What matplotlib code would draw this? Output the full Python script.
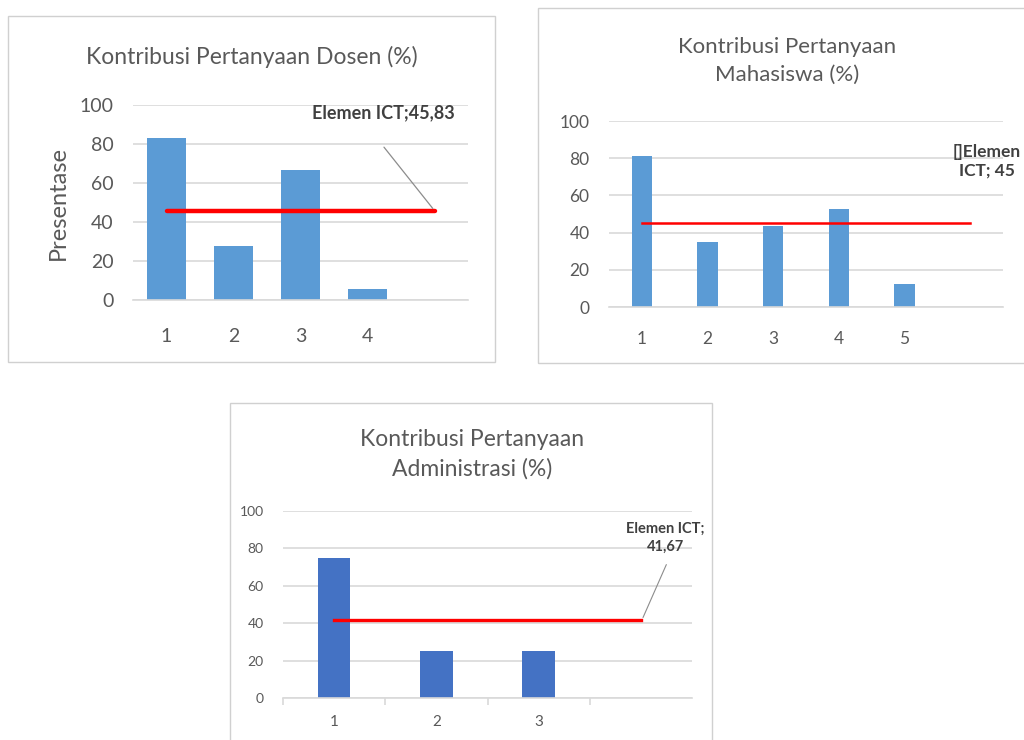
import numpy as np
import matplotlib
matplotlib.use("Agg")
from matplotlib import pyplot as plt
from matplotlib.patches import Rectangle

plt.rcParams['font.family'] = ['Lato', 'DejaVu Sans']

# data
dosen_cats = ['1', '2', '3', '4']
dosen_vals = [83.33, 27.78, 66.67, 5.56]
dosen_ict = 45.83

mhs_cats = ['1', '2', '3', '4', '5']
mhs_vals = [81.25, 35.0, 43.75, 52.5, 12.5]
mhs_ict = 45

adm_cats = ['1', '2', '3']
adm_vals = [75.0, 25.0, 25.0]
adm_ict = 41.67

W, H = 1024, 740
fig = plt.figure(figsize=(W / 100, H / 100), dpi=100)
fig.patch.set_facecolor('white')

tick_col = '#595959'
grid_col = '#d9d9d9'


def px_rect(l, t, r, b):
    # pixel box -> figure fraction
    return [l / W, 1 - b / H, (r - l) / W, (b - t) / H]


def frame(l, t, r, b):
    fig.add_artist(Rectangle((l / W, 1 - b / H), (r - l) / W, (b - t) / H,
                             transform=fig.transFigure, fill=False,
                             edgecolor='#d0d0d0', lw=1.0))


def base_axes(rect, ncat, fs, xpad):
    ax = fig.add_axes(rect)
    ax.set_ylim(0, 100)
    ax.set_xlim(0.5, ncat + 0.5)
    ax.set_yticks(np.arange(0, 101, 20))
    ax.yaxis.grid(True, color=grid_col, lw=1.2)
    ax.set_axisbelow(True)
    for s in ['top', 'right', 'left']:
        ax.spines[s].set_visible(False)
    ax.spines['bottom'].set_color(grid_col)
    ax.spines['bottom'].set_linewidth(1.2)
    ax.tick_params(axis='both', length=0, colors=tick_col, labelsize=fs)
    ax.tick_params(axis='y', pad=14)
    ax.tick_params(axis='x', pad=xpad)
    return ax


# ---- chart 1: Dosen
frame(8, 16, 495, 362)
ax1 = base_axes(px_rect(133, 105, 468, 300), len(dosen_cats) + 1, 14, 20)
x1 = np.arange(1, len(dosen_cats) + 1)
ax1.bar(x1, dosen_vals, width=0.57, color='#5B9BD5')
ax1.set_xticks(x1)
ax1.set_xticklabels(dosen_cats)
ax1.plot([1, len(dosen_cats) + 1], [dosen_ict, dosen_ict], color='#FF0000', lw=3.2,
         solid_capstyle='round')
ax1.set_ylabel('Presentase', fontsize=17, color=tick_col)
ax1.yaxis.label.set_va('center')
ax1.yaxis.set_label_coords(-0.224, 0.5)
ax1.text(5.3, 96, 'Elemen ICT;' + f'{dosen_ict:.2f}'.replace('.', ','), ha='right',
         va='center', fontsize=13, fontweight='bold', color='#404040')
ax1.annotate('', xy=(5, dosen_ict), xytext=(4.22, 79.5),
             arrowprops=dict(arrowstyle='-', color='#8c8c8c', lw=0.9))
fig.text(252 / W, 1 - 57 / H, 'Kontribusi Pertanyaan Dosen (%)', ha='center', va='center',
         fontsize=16.5, color=tick_col)

# ---- chart 2: Mahasiswa
frame(538, 8, 1030, 363)
ax2 = base_axes(px_rect(609, 121, 1003, 307), len(mhs_cats) + 1, 12.5, 17)
x2 = np.arange(1, len(mhs_cats) + 1)
ax2.bar(x2, mhs_vals, width=0.31, color='#5B9BD5')
ax2.set_xticks(x2)
ax2.set_xticklabels(mhs_cats)
ax2.plot([1, len(mhs_cats) + 1], [mhs_ict, mhs_ict], color='#FF0000', lw=1.8)
ax2.text(6.25, 78.5, '[]Elemen\nICT; ' + str(mhs_ict), ha='center', va='center',
         fontsize=12.5, fontweight='bold', color='#404040', linespacing=1.2)
fig.text(787 / W, 1 - 61 / H, 'Kontribusi Pertanyaan\nMahasiswa (%)', ha='center',
         va='center', fontsize=16, color=tick_col, linespacing=1.45)

# ---- chart 3: Administrasi
frame(230, 403, 712, 745)
ax3 = base_axes(px_rect(283, 511, 692, 698), len(adm_cats) + 1, 10, 12)
x3 = np.arange(1, len(adm_cats) + 1)
ax3.bar(x3, adm_vals, width=0.32, color='#4472C4')
ax3.set_xticks(x3)
ax3.set_xticklabels(adm_cats)
ax3.set_xticks(np.arange(0.5, len(adm_cats) + 1.5, 1), minor=True)
ax3.tick_params(axis='x', which='minor', length=5, color=grid_col, width=1.2)
ax3.tick_params(axis='x', labelsize=11)
ax3.plot([1, len(adm_cats) + 1], [adm_ict, adm_ict], color='#FF0000', lw=2.4)
ax3.text(4.24, 85.6, 'Elemen ICT;\n' + f'{adm_ict:.2f}'.replace('.', ','), ha='center',
         va='center', fontsize=10.5, fontweight='bold', color='#404040', linespacing=1.3)
ax3.annotate('', xy=(4.01, adm_ict), xytext=(4.26, 72.7),
             arrowprops=dict(arrowstyle='-', color='#8c8c8c', lw=0.8))
fig.text(472 / W, 1 - 454 / H, 'Kontribusi Pertanyaan\nAdministrasi (%)', ha='center',
         va='center', fontsize=16.5, color=tick_col, linespacing=1.45)

fig.savefig('out.png', dpi=100)
